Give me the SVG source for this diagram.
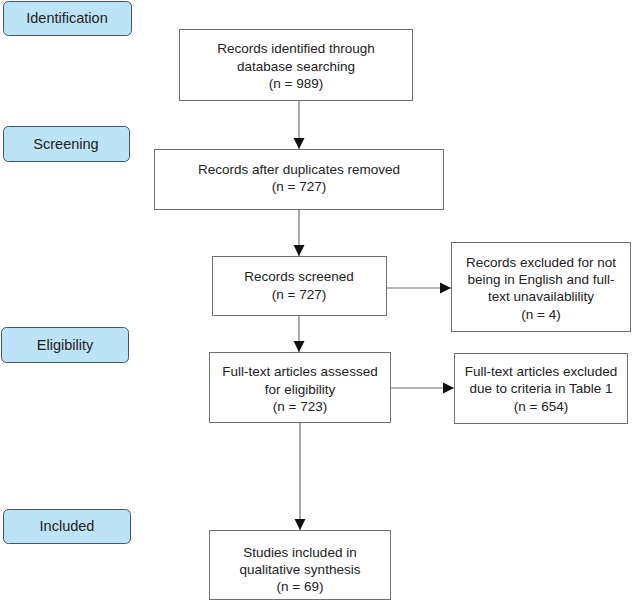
<svg xmlns="http://www.w3.org/2000/svg" width="633" height="602" viewBox="0 0 633 602">
<defs>
<marker id="ah" markerWidth="12" markerHeight="12" refX="11" refY="6" orient="auto" markerUnits="userSpaceOnUse">
<path d="M0,0.5 L11,6 L0,11.5 Z" fill="#111"/>
</marker>
<style>
.stage rect{fill:#bde3f7;stroke:#44546a;stroke-width:1}
.stage text{font-family:"Liberation Sans",Arial,sans-serif;font-size:14.5px;fill:#222;text-anchor:middle}
.box rect{fill:#fff;stroke:#707070;stroke-width:1}
.box text{font-family:"Liberation Sans",Arial,sans-serif;font-size:13.5px;fill:#222;text-anchor:middle}
.conn line{stroke:#707070;stroke-width:1.2;marker-end:url(#ah)}
</style>
</defs>
<rect width="633" height="602" fill="#fff"/>
<g id="stage-identification" class="stage"><rect x="3.5" y="1.5" width="128" height="34" rx="5"/><text x="67" y="23">Identification</text></g>
<g id="stage-screening" class="stage"><rect x="3.5" y="126.5" width="126" height="35" rx="5"/><text x="66" y="149">Screening</text></g>
<g id="stage-eligibility" class="stage"><rect x="1.5" y="327.5" width="127" height="35" rx="5"/><text x="65" y="350">Eligibility</text></g>
<g id="stage-included" class="stage"><rect x="3.5" y="509.5" width="127" height="34" rx="5"/><text x="67" y="531">Included</text></g>

<g id="n1" class="box"><rect x="179.5" y="29.5" width="233" height="71"/><text x="296" y="53">Records identified through</text><text x="296" y="71">database searching</text><text x="296" y="88">(n = 989)</text></g>
<g id="n2" class="box"><rect x="154.5" y="149.5" width="289" height="60"/><text x="299" y="174">Records after duplicates removed</text><text x="299" y="191">(n = 727)</text></g>
<g id="n3" class="box"><rect x="212.5" y="256.5" width="174" height="59"/><text x="299" y="281">Records screened</text><text x="299" y="299">(n = 727)</text></g>
<g id="n4" class="box"><rect x="451.5" y="242.5" width="179" height="89"/><text x="541" y="267">Records excluded for not</text><text x="541" y="284">being in English and full-</text><text x="541" y="301">text unavailablility</text><text x="541" y="319">(n = 4)</text></g>
<g id="n5" class="box"><rect x="209.5" y="352.5" width="181" height="70"/><text x="300" y="376">Full-text articles assessed</text><text x="300" y="394">for eligibility</text><text x="300" y="411">(n = 723)</text></g>
<g id="n6" class="box"><rect x="454.5" y="353.5" width="173" height="70"/><text x="541" y="376">Full-text articles excluded</text><text x="541" y="393">due to criteria in Table 1</text><text x="541" y="411">(n = 654)</text></g>
<g id="n7" class="box"><rect x="209.5" y="530.5" width="181" height="69"/><text x="300" y="557">Studies included in</text><text x="300" y="574">qualitative synthesis</text><text x="300" y="591">(n = 69)</text></g>

<g id="connectors" class="conn">
<line x1="299" y1="101" x2="299" y2="149"/>
<line x1="299" y1="210" x2="299" y2="256"/>
<line x1="387" y1="288" x2="451" y2="288"/>
<line x1="299" y1="316" x2="299" y2="352"/>
<line x1="391" y1="388" x2="454" y2="388"/>
<line x1="300" y1="423" x2="300" y2="530"/>
</g>
</svg>
